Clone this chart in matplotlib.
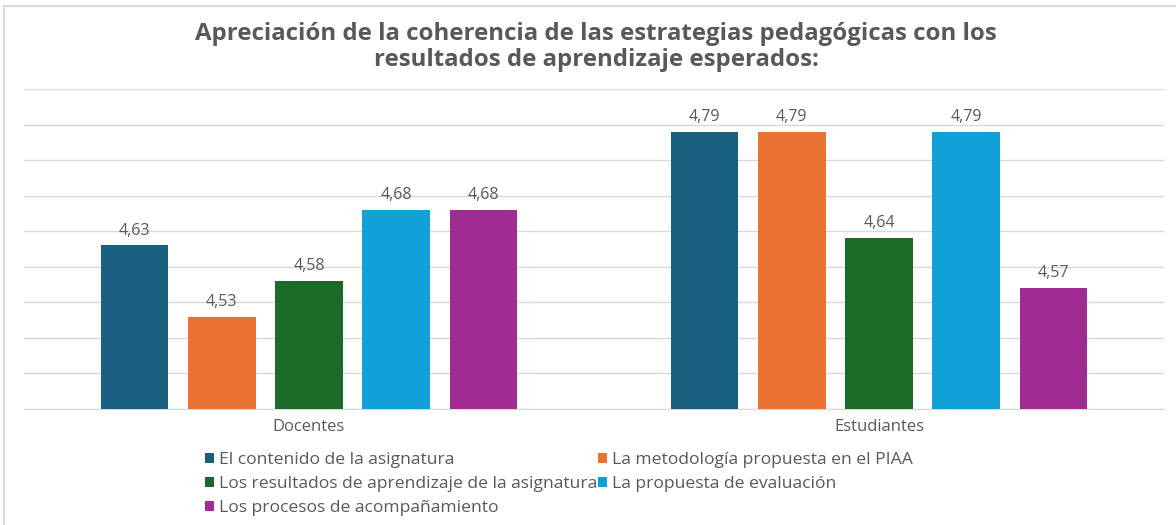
import matplotlib.pyplot as plt
from matplotlib.lines import Line2D
import numpy as np

# data
groups = ['Docentes', 'Estudiantes']
series = [
    'El contenido de la asignatura',
    'La metodología propuesta en el PIAA',
    'Los resultados de aprendizaje de la asignatura',
    'La propuesta de evaluación',
    'Los procesos de acompañamiento',
]
values = [
    [4.63, 4.79],
    [4.53, 4.79],
    [4.58, 4.64],
    [4.68, 4.79],
    [4.68, 4.57],
]
colors = ['#185f80', '#ea7334', '#1c6a27', '#12a0d8', '#a02b93']

plt.rcParams['font.family'] = ['Open Sans', 'DejaVu Sans']
txt = '#595959'

fig = plt.figure(figsize=(11.76, 5.25), dpi=100)
ax = fig.add_axes([24 / 1176, 1 - 409 / 525, 1140 / 1176, 320 / 525])

x = np.arange(len(groups))
width = 0.119
step = 0.153
for i, (name, vals) in enumerate(zip(series, values)):
    pos = x + (i - 2) * step
    bars = ax.bar(pos, vals, width, color=colors[i], label=name, zorder=3)
    labels = [f'{v:.2f}'.replace('.', ',') for v in vals]
    ax.bar_label(bars, labels=labels, padding=5, fontsize=11.5, color=txt)

ax.set_xlim(-0.5, 1.5)
ax.set_ylim(4.40, 4.85)
ax.set_yticks(np.arange(4.40, 4.851, 0.05))
ax.set_yticklabels([])
ax.tick_params(axis='y', length=0)
ax.tick_params(axis='x', length=0, pad=7, labelsize=12, labelcolor=txt)
ax.set_xticks(x)
ax.set_xticklabels(groups)
ax.grid(axis='y', color='#d9d9d9', linewidth=1, zorder=0)
for s in ['top', 'right', 'left']:
    ax.spines[s].set_visible(False)
ax.spines['bottom'].set_color('#d9d9d9')

fig.text(0.507, 1 - 47 / 525, 'Apreciación de la coherencia de las estrategias pedagógicas con los\nresultados de aprendizaje esperados:',
         ha='center', va='center', fontsize=17.3, fontweight='bold', color=txt, linespacing=1.1)

# legend: Excel fills rows, matplotlib fills columns
h, l = ax.get_legend_handles_labels()
order = [0, 2, 4, 1, 3]
fig.legend([h[k] for k in order], [l[k] for k in order], ncol=2, frameon=False,
           loc='upper left', bbox_to_anchor=(198 / 1176, 1 - 445 / 525),
           fontsize=12.6, labelcolor=txt, handlelength=0.5, handleheight=0.5,
           handletextpad=0.3, columnspacing=0.05, labelspacing=0.45, borderaxespad=0)

# chart frame
fig.add_artist(Line2D([4 / 1176, 4 / 1176], [0, 1 - 6 / 525], color='#d9d9d9', lw=1.5, transform=fig.transFigure))
fig.add_artist(Line2D([4 / 1176, 1], [1 - 6 / 525, 1 - 6 / 525], color='#d9d9d9', lw=1.5, transform=fig.transFigure))

fig.savefig('out.png', dpi=100)
